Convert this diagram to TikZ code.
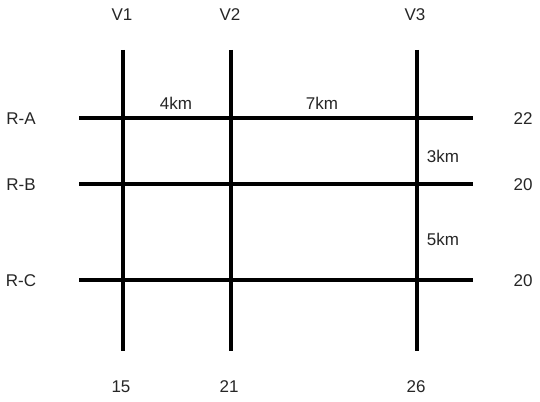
\documentclass[tikz,border=0pt]{standalone}
\usepackage{fontspec}
\setmainfont{Liberation Sans}
\begin{document}
\begin{tikzpicture}[x=1pt,y=-1pt,
    road/.style={line width=3.4pt, black},
    lbl/.style={font=\fontsize{17}{20}\selectfont, text=black!85, inner sep=0pt}]
    \useasboundingbox[fill=white] (0,0) rectangle (540,401);
    % road ends
    \coordinate (v1n) at (123,50);  \coordinate (v1s) at (123,351);
    \coordinate (v2n) at (231,50);  \coordinate (v2s) at (231,351);
    \coordinate (v3n) at (417,50);  \coordinate (v3s) at (417,351);
    \coordinate (raw) at (79,118);  \coordinate (rae) at (473,118);
    \coordinate (rbw) at (79,184);  \coordinate (rbe) at (473,184);
    \coordinate (rcw) at (79,280);  \coordinate (rce) at (473,280);
    \draw[road] (raw) -- (rae);  % R-A
    \draw[road] (rbw) -- (rbe);  % R-B
    \draw[road] (rcw) -- (rce);  % R-C
    \draw[road] (v1n) -- (v1s);  % V1
    \draw[road] (v2n) -- (v2s);  % V2
    \draw[road] (v3n) -- (v3s);  % V3
    % labels
    \node[lbl] (v1) at (122,15) {V1};
    \node[lbl] (v2) at (230,15) {V2};
    \node[lbl] (v3) at (415,15) {V3};
    \node[lbl] (ra) at (21,119) {R-A};
    \node[lbl] (rb) at (21,185) {R-B};
    \node[lbl] (rc) at (21,281) {R-C};
    \node[lbl] (na) at (523,119) {22};
    \node[lbl] (nb) at (523,185) {20};
    \node[lbl] (nc) at (523,281) {20};
    \node[lbl] (n1) at (121,387) {15};
    \node[lbl] (n2) at (229,387) {21};
    \node[lbl] (n3) at (416,387) {26};
    \node[lbl] (d12) at (176,103) {4km};
    \node[lbl] (d23) at (322,103) {7km};
    \node[lbl] (dab) at (443,156) {3km};
    \node[lbl] (dbc) at (443,239) {5km};
\end{tikzpicture}
\end{document}
